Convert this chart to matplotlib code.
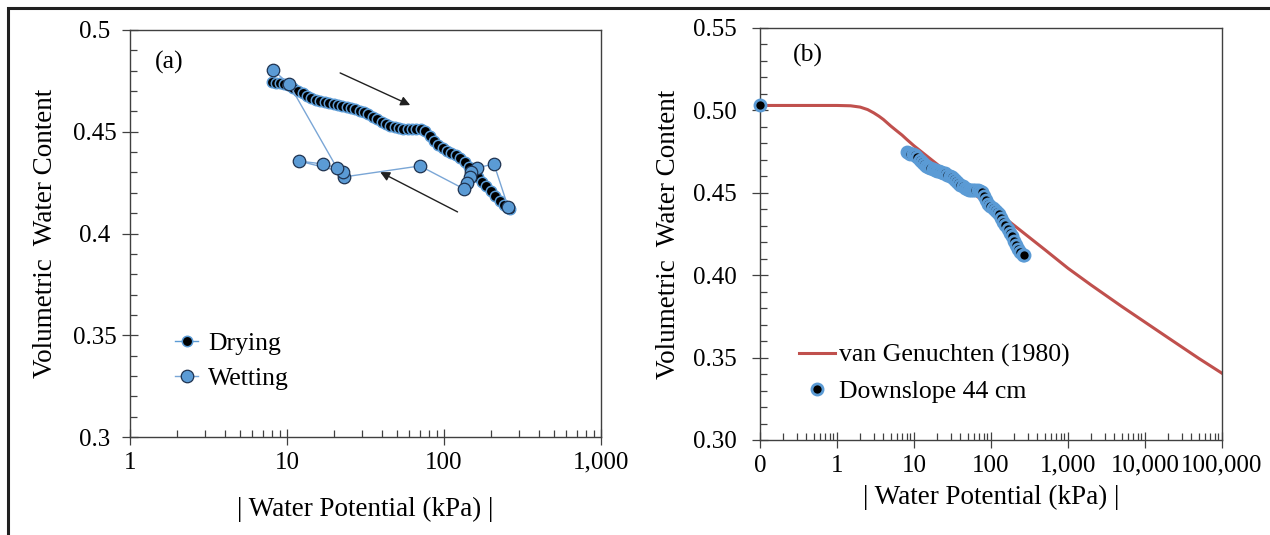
import matplotlib
matplotlib.use("Agg")
import matplotlib.pyplot as plt
from matplotlib.ticker import LogLocator, FixedLocator, MultipleLocator, NullFormatter
from matplotlib.patches import Rectangle

# ---------------- data ----------------
dry_kpa = [8.0, 8.5, 9.0, 9.6, 10.2, 11.0, 11.8, 12.6, 13.4, 14.3, 15.2, 16.3, 17.4, 18.5,
           19.8, 21.0, 22.4, 24.0, 25.5, 27.2, 29.0, 31.0, 33.0, 35.2, 37.5, 40.0, 42.7,
           45.5, 48.5, 51.7, 55.1, 58.8, 62.7, 66.8, 71.2, 76.0, 81.0, 86.4, 92.1, 98.2,
           104.7, 111.6, 119.0, 126.9, 135.3, 144.3, 153.8, 164.0, 174.9, 186.5, 198.8,
           212.0, 226.0, 241.0, 257.0, 265.0]
dry_theta = [0.4745, 0.4740, 0.4738, 0.4735, 0.4730, 0.4715, 0.4700, 0.4688, 0.4675, 0.4665,
             0.4655, 0.4650, 0.4645, 0.4640, 0.4635, 0.4630, 0.4626, 0.4622, 0.4618, 0.4610,
             0.4600, 0.4595, 0.4585, 0.4572, 0.4562, 0.4550, 0.4540, 0.4530, 0.4522, 0.4518,
             0.4515, 0.4515, 0.4515, 0.4515, 0.4512, 0.4505, 0.4480, 0.4455, 0.4435, 0.4420,
             0.4405, 0.4395, 0.4385, 0.4370, 0.4350, 0.4325, 0.4305, 0.4280, 0.4255, 0.4235,
             0.4210, 0.4185, 0.4160, 0.4140, 0.4125, 0.4120]

wet_kpa = [256.0, 208.0, 162.0, 148.6, 146.0, 140.0, 134.0, 70.3, 23.1, 22.7, 11.9, 16.9,
           20.8, 10.3, 8.15]
wet_theta = [0.4130, 0.4342, 0.4322, 0.4302, 0.4278, 0.4248, 0.4219, 0.4332, 0.4278, 0.4302,
             0.4356, 0.4342, 0.4322, 0.4735, 0.4803]

# downslope 44 cm (panel b): saturated point plotted at 0.1 kPa plus drying data
down_kpa = [0.1] + dry_kpa
down_theta = [0.503] + dry_theta

# van Genuchten (1980) curve
vg_kpa = [0.1, 0.3, 0.6, 1.0, 1.5, 2.0, 2.5, 3.0, 3.5, 4.0, 5.0, 6.0, 7.0, 8.0, 10.0, 20.0,
          50.0, 100.0, 200.0, 500.0, 1000.0, 2000.0, 5000.0, 10000.0, 20000.0, 50000.0, 100000.0]
vg_theta = [0.503, 0.503, 0.503, 0.503, 0.5028, 0.5020, 0.5005, 0.4985, 0.4965, 0.4945,
            0.4905, 0.4875, 0.4850, 0.4825, 0.4785, 0.4673, 0.4523, 0.4413, 0.4302, 0.4155,
            0.4042, 0.3940, 0.3810, 0.3715, 0.3620, 0.3495, 0.3405]

a_xticks = [1, 10, 100, 1000]
a_xlabels = ["1", "10", "100", "1,000"]
a_yticks = [0.3, 0.35, 0.4, 0.45, 0.5]
a_ylabels = ["0.3", "0.35", "0.4", "0.45", "0.5"]
b_xticks = [0.1, 1, 10, 100, 1000, 10000, 100000]
b_xlabels = ["0", "1", "10", "100", "1,000", "10,000", "100,000"]
b_yticks = [0.30, 0.35, 0.40, 0.45, 0.50, 0.55]
b_ylabels = ["0.30", "0.35", "0.40", "0.45", "0.50", "0.55"]

# arrows (tail, head) in data coordinates
arrow1 = ((21.8, 0.4789), (60.9, 0.4631))
arrow2 = ((122.0, 0.4106), (39.2, 0.4302))

# ---------------- style ----------------
plt.rcParams['font.family'] = ['Liberation Serif', 'DejaVu Serif']
FS = 18
LEGFS = 18.5
LFS = 19.5
SPINE = '#404040'
BLUE = '#5b9bd5'
NAVY = '#1f3350'
RED = '#c0504d'

fig = plt.figure(figsize=(12.7, 5.35), dpi=100)
W, H = 1270, 535
axa = fig.add_axes([130 / W, 1 - 437 / H, (601 - 130) / W, (437 - 30) / H])
axb = fig.add_axes([760 / W, 1 - 440 / H, (1222 - 760) / W, (440 - 28) / H])

# figure border
fig.add_artist(Rectangle((8 / W, -0.05), 1.2, 1 - 8 / H + 0.05, transform=fig.transFigure,
                         fill=False, edgecolor='#202020', lw=2.2, clip_on=False))


def style_axes(ax):
    for s in ax.spines.values():
        s.set_color(SPINE)
        s.set_linewidth(1.0)
    ax.tick_params(which='major', direction='inout', length=11, width=0.9, color=SPINE,
                   labelsize=FS, pad=5, top=False, right=False)
    ax.tick_params(which='minor', direction='in', length=5, width=0.9, color=SPINE,
                   top=False, right=False)
    ax.xaxis.set_minor_locator(LogLocator(base=10, subs=[2, 3, 4, 5, 6, 7, 8, 9], numticks=50))
    ax.xaxis.set_minor_formatter(NullFormatter())
    ax.yaxis.set_minor_locator(MultipleLocator(0.01))


# ---------------- panel (a) ----------------
axa.set_xscale('log')
axa.plot(dry_kpa, dry_theta, '-o', color=BLUE, lw=1.0, markersize=7.5,
         markerfacecolor='black', markeredgecolor=BLUE, markeredgewidth=1.1,
         label='Drying', zorder=3)
axa.plot(wet_kpa, wet_theta, '-o', color='#7aa6d6', lw=1.0, markersize=9,
         markerfacecolor=BLUE, markeredgecolor=NAVY, markeredgewidth=0.9,
         label='Wetting', zorder=4)
axa.set_xlim(1, 1000)
axa.set_ylim(0.3, 0.5)
style_axes(axa)
axa.xaxis.set_major_locator(FixedLocator(a_xticks))
axa.set_xticklabels(a_xlabels)
axa.yaxis.set_major_locator(FixedLocator(a_yticks))
axa.set_yticklabels(a_ylabels)
axa.tick_params(axis='y', which='major', pad=20)
for lab in axa.get_yticklabels():
    lab.set_ha('center')
axa.set_xlabel('| Water Potential (kPa) |', fontsize=LFS)
axa.set_ylabel('Volumetric  Water Content', fontsize=LFS)
axa.xaxis.label.set_va('center')
axa.yaxis.label.set_va('center')
axa.xaxis.set_label_coords(0.5, -0.178)
axa.yaxis.set_label_coords(-0.180, 0.5)
axa.text(0.053, 0.92, '(a)', transform=axa.transAxes, fontsize=LEGFS, ha='left', va='center')
for tail, head in (arrow1, arrow2):
    axa.annotate('', xy=head, xytext=tail,
                 arrowprops=dict(arrowstyle='-|>', color='#202020', lw=1.0,
                                 mutation_scale=14, shrinkA=0, shrinkB=0))
axa.legend(loc='upper left', bbox_to_anchor=(0.0955, 0.258), frameon=False, fontsize=LEGFS,
           handlelength=0.9, handletextpad=0.4, labelspacing=0.45, borderpad=0,
           borderaxespad=0)

# ---------------- panel (b) ----------------
axb.set_xscale('log')
axb.plot(vg_kpa, vg_theta, '-', color=RED, lw=2.2, label='van Genuchten (1980)', zorder=2)
axb.plot(down_kpa, down_theta, 'o', linestyle='none', markersize=8, markerfacecolor='black',
         markeredgecolor=BLUE, markeredgewidth=2.0, label='Downslope 44 cm', zorder=3,
         clip_on=False)
axb.set_xlim(0.1, 100000)
axb.set_ylim(0.30, 0.55)
style_axes(axb)
axb.xaxis.set_major_locator(FixedLocator(b_xticks))
axb.set_xticklabels(b_xlabels)
axb.yaxis.set_major_locator(FixedLocator(b_yticks))
axb.set_yticklabels(b_ylabels)
axb.tick_params(axis='y', which='major', pad=11)
axb.set_xlabel('| Water Potential (kPa) |', fontsize=LFS)
axb.set_ylabel('Volumetric  Water Content', fontsize=LFS)
axb.xaxis.label.set_va('center')
axb.yaxis.label.set_va('center')
axb.xaxis.set_label_coords(0.5, -0.139)
axb.yaxis.set_label_coords(-0.199, 0.5)
axb.text(0.071, 0.934, '(b)', transform=axb.transAxes, fontsize=LEGFS, ha='left', va='center')
axb.legend(loc='upper left', bbox_to_anchor=(0.0844, 0.233), frameon=False, fontsize=LEGFS,
           handlelength=1.4, handletextpad=0.15, labelspacing=0.5, borderpad=0,
           borderaxespad=0)

fig.savefig('out.png', dpi=100)
